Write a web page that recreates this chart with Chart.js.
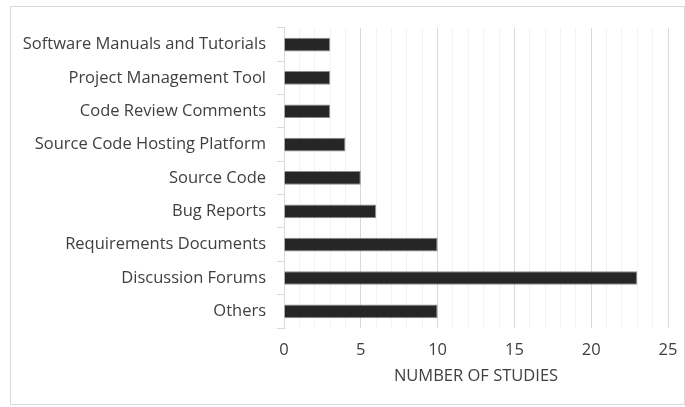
<!DOCTYPE html>
<html>
<head>
<meta charset="utf-8">
<script src="https://cdn.jsdelivr.net/npm/chart.js@4"></script>
<style>
    body { margin: 0; background: #fff; }
    #frame {
        position: absolute;
        left: 10px;
        top: 6px;
        width: 673px;
        height: 397px;
        border: 1px solid #d9d9d9;
    }
</style>
</head>
<body>
<div id="frame"><canvas id="chart"></canvas></div>
<script>
const categories = [
    'Software Manuals and Tutorials',
    'Project Management Tool',
    'Code Review Comments',
    'Source Code Hosting Platform',
    'Source Code',
    'Bug Reports',
    'Requirements Documents',
    'Discussion Forums',
    'Others'
]
const studies = [3, 3, 3, 4, 5, 6, 10, 23, 10]
const axisTitle = 'NUMBER OF STUDIES'

const labelFont = { family: '"Open Sans", "Noto Sans", sans-serif', size: 16.5 }

new Chart(document.getElementById('chart'), {
    type: 'bar',
    data: {
        labels: categories,
        datasets: [
            {
                label: axisTitle,
                data: studies,
                backgroundColor: '#262626',
                borderColor: '#8c8c8c',
                borderWidth: 1,
                categoryPercentage: 1,
                barPercentage: 0.41
            }
        ]
    },
    options: {
        indexAxis: 'y',
        responsive: true,
        maintainAspectRatio: false,
        animation: false,
        layout: {
            padding: { top: 18, right: 0, bottom: 17, left: 0 }
        },
        plugins: {
            legend: { display: false },
            tooltip: { enabled: false }
        },
        scales: {
            x: {
                min: 0,
                max: 25,
                afterFit(scale) {
                    scale.height = 59
                    scale.paddingRight = 16
                },
                ticks: {
                    stepSize: 1,
                    autoSkip: false,
                    maxRotation: 0,
                    padding: 12,
                    color: '#404040',
                    font: labelFont,
                    callback: (v) => v % 5 === 0 ? v : ''
                },
                grid: {
                    drawTicks: false,
                    color: (ctx) => ctx.tick && ctx.tick.value % 5 === 0 ? '#d9d9d9' : '#f3f3f3',
                    lineWidth: 1
                },
                border: { display: false },
                title: {
                    display: true,
                    text: axisTitle,
                    color: '#404040',
                    font: labelFont,
                    padding: { top: 0, bottom: 1 }
                }
            },
            y: {
                afterFit(scale) { scale.width = 273 },
                ticks: {
                    padding: 11,
                    color: '#404040',
                    font: labelFont
                },
                grid: {
                    drawOnChartArea: false,
                    tickLength: 7,
                    color: '#d9d9d9'
                },
                border: { display: true, color: '#d9d9d9' }
            }
        }
    }
})
</script>
</body>
</html>
